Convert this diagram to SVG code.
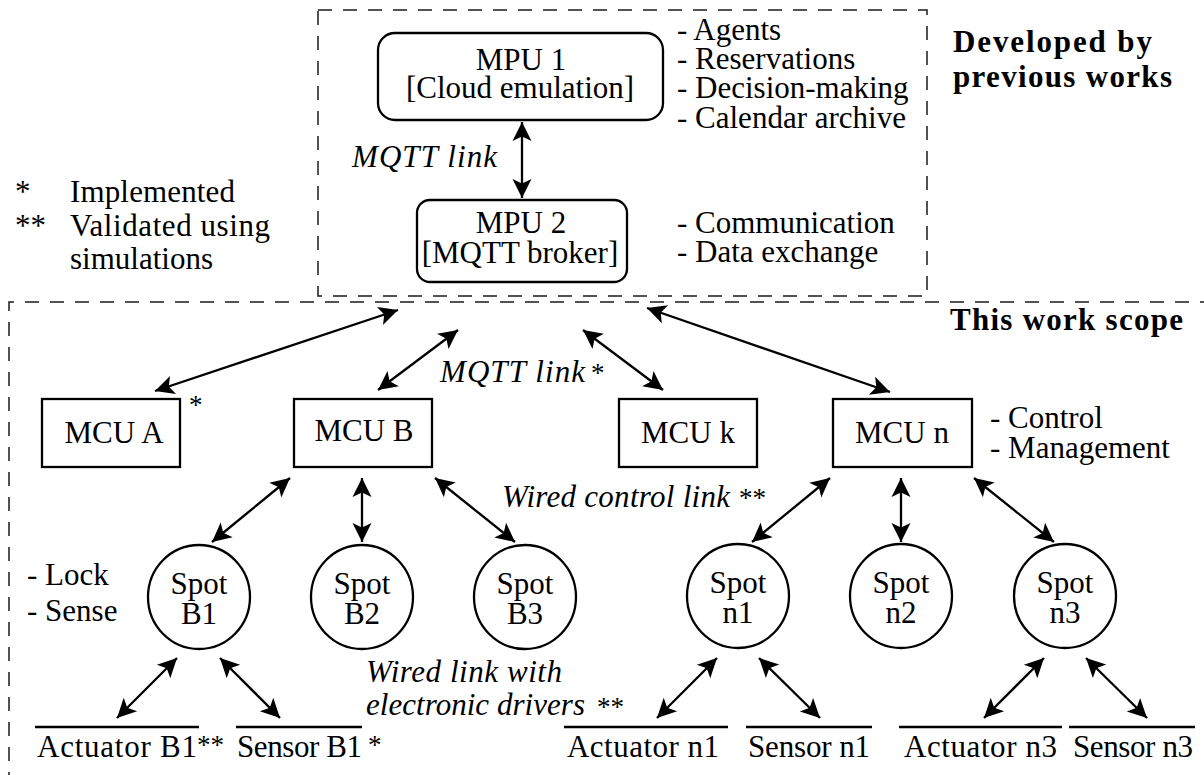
<svg xmlns="http://www.w3.org/2000/svg" width="1204" height="775" viewBox="0 0 1204 775">
  <style>
    text { font-family: 'Liberation Serif', 'DejaVu Serif', serif; fill: #000; }
    .t { font-size: 31px; }
    .i { font-style: italic; }
    .b { font-weight: bold; }
    .c { text-anchor: middle; }
    .star { font-size: 27px; }
    .box { fill: #fff; stroke: #000; stroke-width: 2.3; }
    .bar { stroke: #000; stroke-width: 2.3; fill: none; }
    .frame { fill: none; stroke: #1a1a1a; stroke-width: 1.5; stroke-dasharray: 14 11; }
    .link { stroke: #000; stroke-width: 2.3; fill: none; marker-start: url(#ah); marker-end: url(#ah); }
  </style>
  <defs>
    <!-- filled double-ended arrowhead, tip on the line end -->
    <marker id="ah" viewBox="-21 -11 23 22" refX="0" refY="0" markerWidth="23" markerHeight="22" markerUnits="userSpaceOnUse" orient="auto-start-reverse">
      <path d="M0,0 L-19,-9.5 L-14.5,0 L-19,9.5 Z" fill="#000"/>
    </marker>
  </defs>

  <rect width="1204" height="775" fill="#fff"/>

  <!-- scope frames -->
  <g id="frames">
    <rect class="frame" x="318" y="10" width="609" height="286"/>
    <path class="frame" d="M1214 302 H9 V785"/>
    <text class="t b" x="953" y="52" textLength="199">Developed by</text>
    <text class="t b" x="953" y="87" textLength="219">previous works</text>
    <text class="t b" x="950" y="330" textLength="233">This work scope</text>
  </g>

  <!-- legend -->
  <g id="legend">
    <text class="t" x="15" y="202">*</text>
    <text class="t" x="70" y="202" textLength="165">Implemented</text>
    <text class="t" x="15" y="236">**</text>
    <text class="t" x="70" y="236" textLength="200">Validated using</text>
    <text class="t" x="70" y="269" textLength="143">simulations</text>
  </g>

  <!-- connectors -->
  <g id="connectors">
    <line class="link" x1="522" y1="122" x2="522" y2="198"/>
    <line class="link" x1="398" y1="310" x2="155" y2="391"/>
    <line class="link" x1="458" y1="330" x2="378" y2="390"/>
    <line class="link" x1="583" y1="330" x2="663" y2="390"/>
    <line class="link" x1="647" y1="308" x2="890" y2="392"/>

    <line class="link" x1="290" y1="478" x2="212" y2="542"/>
    <line class="link" x1="362" y1="478" x2="362" y2="542"/>
    <line class="link" x1="435" y1="478" x2="515" y2="542"/>

    <line class="link" x1="830" y1="478" x2="752" y2="542"/>
    <line class="link" x1="901" y1="478" x2="901" y2="542"/>
    <line class="link" x1="974" y1="478" x2="1054" y2="542"/>

    <line class="link" x1="177" y1="658" x2="117" y2="718"/>
    <line class="link" x1="220" y1="658" x2="280" y2="718"/>
    <line class="link" x1="717" y1="658" x2="657" y2="718"/>
    <line class="link" x1="759" y1="658" x2="820" y2="718"/>
    <line class="link" x1="1044" y1="658" x2="984" y2="718"/>
    <line class="link" x1="1086" y1="658" x2="1147" y2="718"/>

    <text class="t i" x="352" y="167" textLength="145">MQTT link</text>
    <text class="t i" x="440" y="382" textLength="145">MQTT link</text>
    <text class="star" x="591" y="382">*</text>
    <text class="t i" x="502" y="507" textLength="228">Wired control link</text>
    <text class="star" x="739" y="507">**</text>
    <text class="t i" x="366" y="682" textLength="196">Wired link with</text>
    <text class="t i" x="366" y="715" textLength="219">electronic drivers</text>
    <text class="star" x="597" y="716">**</text>
  </g>

  <!-- processing units -->
  <g id="mpu1">
    <rect class="box" x="378" y="33" width="285" height="87" rx="17"/>
    <text class="t c" x="521" y="70">MPU 1</text>
    <text class="t c" x="520" y="98">[Cloud emulation]</text>
    <text class="t" x="677" y="40">- Agents</text>
    <text class="t" x="677" y="69">- Reservations</text>
    <text class="t" x="677" y="98">- Decision-making</text>
    <text class="t" x="677" y="128">- Calendar archive</text>
  </g>
  <g id="mpu2">
    <rect class="box" x="417" y="200" width="210" height="82" rx="13"/>
    <text class="t c" x="521" y="233">MPU 2</text>
    <text class="t c" x="520" y="263">[MQTT broker]</text>
    <text class="t" x="677" y="233">- Communication</text>
    <text class="t" x="677" y="262">- Data exchange</text>
  </g>

  <!-- microcontrollers -->
  <g id="mcuA">
    <rect class="box" x="42" y="399" width="138" height="68"/>
    <text class="t c" x="114" y="443">MCU A</text>
    <text class="star" x="189" y="414">*</text>
  </g>
  <g id="mcuB">
    <rect class="box" x="294" y="399" width="138" height="68"/>
    <text class="t c" x="364" y="441">MCU B</text>
  </g>
  <g id="mcuK">
    <rect class="box" x="619" y="399" width="138" height="68"/>
    <text class="t c" x="688" y="443">MCU k</text>
  </g>
  <g id="mcuN">
    <rect class="box" x="833" y="399" width="139" height="68"/>
    <text class="t c" x="902" y="443">MCU n</text>
    <text class="t" x="990" y="428">- Control</text>
    <text class="t" x="990" y="458">- Management</text>
  </g>

  <!-- parking spots -->
  <g id="spotB1">
    <ellipse class="box" cx="199" cy="597" rx="51" ry="52"/>
    <text class="t c" x="199" y="594">Spot</text>
    <text class="t c" x="199" y="624">B1</text>
    <text class="t" x="27" y="585">- Lock</text>
    <text class="t" x="27" y="621">- Sense</text>
  </g>
  <g id="spotB2">
    <ellipse class="box" cx="362" cy="597" rx="51" ry="52"/>
    <text class="t c" x="362" y="594">Spot</text>
    <text class="t c" x="362" y="624">B2</text>
  </g>
  <g id="spotB3">
    <ellipse class="box" cx="525" cy="597" rx="51" ry="52"/>
    <text class="t c" x="525" y="594">Spot</text>
    <text class="t c" x="525" y="624">B3</text>
  </g>
  <g id="spotN1">
    <ellipse class="box" cx="738" cy="596" rx="51" ry="52"/>
    <text class="t c" x="738" y="593">Spot</text>
    <text class="t c" x="738" y="623">n1</text>
  </g>
  <g id="spotN2">
    <ellipse class="box" cx="901" cy="596" rx="51" ry="52"/>
    <text class="t c" x="901" y="593">Spot</text>
    <text class="t c" x="901" y="623">n2</text>
  </g>
  <g id="spotN3">
    <ellipse class="box" cx="1065" cy="596" rx="51" ry="52"/>
    <text class="t c" x="1065" y="593">Spot</text>
    <text class="t c" x="1065" y="623">n3</text>
  </g>

  <!-- field devices -->
  <g id="actuatorB1">
    <line class="bar" x1="35" y1="727" x2="199" y2="727"/>
    <text class="t" x="37" y="757" textLength="160">Actuator B1</text>
    <text class="star" x="197" y="754">**</text>
  </g>
  <g id="sensorB1">
    <line class="bar" x1="236" y1="727" x2="362" y2="727"/>
    <text class="t" x="237" y="757" textLength="125">Sensor B1</text>
    <text class="star" x="368" y="754">*</text>
  </g>
  <g id="actuatorN1">
    <line class="bar" x1="564" y1="727" x2="728" y2="727"/>
    <text class="t" x="567" y="757" textLength="152">Actuator n1</text>
  </g>
  <g id="sensorN1">
    <line class="bar" x1="746" y1="727" x2="872" y2="727"/>
    <text class="t" x="748" y="757" textLength="122">Sensor n1</text>
  </g>
  <g id="actuatorN3">
    <line class="bar" x1="899" y1="727" x2="1062" y2="727"/>
    <text class="t" x="904" y="757" textLength="153">Actuator n3</text>
  </g>
  <g id="sensorN3">
    <line class="bar" x1="1069" y1="727" x2="1195" y2="727"/>
    <text class="t" x="1073" y="757" textLength="120">Sensor n3</text>
  </g>
</svg>
